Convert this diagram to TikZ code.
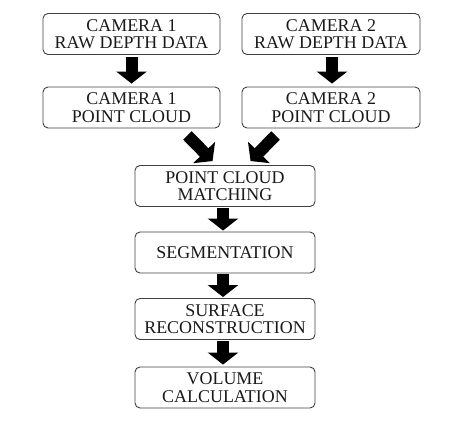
\documentclass[tikz,border=0pt]{standalone}
\usepackage{fontspec}
\setmainfont{Liberation Serif}
\usetikzlibrary{arrows.meta}
\tikzset{
  box/.style={draw=black!75, line width=0.9bp, rounded corners=5bp, align=center,
    inner sep=0pt, minimum height=41bp, text=black!90,
    font=\fontsize{18}{17.5}\selectfont},
  blk/.style={line width=12bp, draw=black,
    -{Triangle[width=30bp,length=12bp]}}
}
\begin{document}
\begin{tikzpicture}[x=1bp,y=-1bp]
\useasboundingbox (0,0) rectangle (471,446);
\node[box, minimum width=177bp] (r1) at (131.5,34) {CAMERA 1\\RAW DEPTH DATA};
\node[box, minimum width=178bp] (r2) at (331,34) {CAMERA 2\\RAW DEPTH DATA};
\node[box, minimum width=177bp] (p1) at (131.5,107.5) {CAMERA 1\\POINT CLOUD};
\node[box, minimum width=178bp] (p2) at (331,107.5) {CAMERA 2\\POINT CLOUD};
\node[box, minimum width=180bp] (m) at (225,186) {POINT CLOUD\\MATCHING};
\node[box, minimum width=180bp] (s) at (225,252.5) {SEGMENTATION};
\node[box, minimum width=180bp] (f) at (225,319) {SURFACE\\RECONSTRUCTION};
\node[box, minimum width=180bp] (v) at (225,387.5) {VOLUME\\CALCULATION};
\coordinate (d1s) at ([shift={(-33,7)}]p1.south east);
\coordinate (d1e) at ([shift={(78,-4)}]m.north west);
\coordinate (d2s) at ([shift={(34,7)}]p2.south west);
\coordinate (d2e) at ([shift={(116,-4)}]m.north west);
\draw[blk, shorten <=2bp, shorten >=3bp] (r1.south) -- (p1.north);
\draw[blk, shorten <=2bp, shorten >=3bp] ([xshift=1bp]r2.south) -- ([xshift=1bp]p2.north);
\draw[blk] (d1s) -- (d1e);
\draw[blk] (d2s) -- (d2e);
\draw[blk, shorten <=1bp, shorten >=1bp] ([xshift=-2bp]m.south) -- ([xshift=-2bp]s.north);
\draw[blk, shorten <=1bp, shorten >=1bp] ([xshift=-2bp]s.south) -- ([xshift=-2bp]f.north);
\draw[blk, shorten <=1bp, shorten >=2bp] ([xshift=-2bp]f.south) -- ([xshift=-2bp]v.north);
\end{tikzpicture}
\end{document}
